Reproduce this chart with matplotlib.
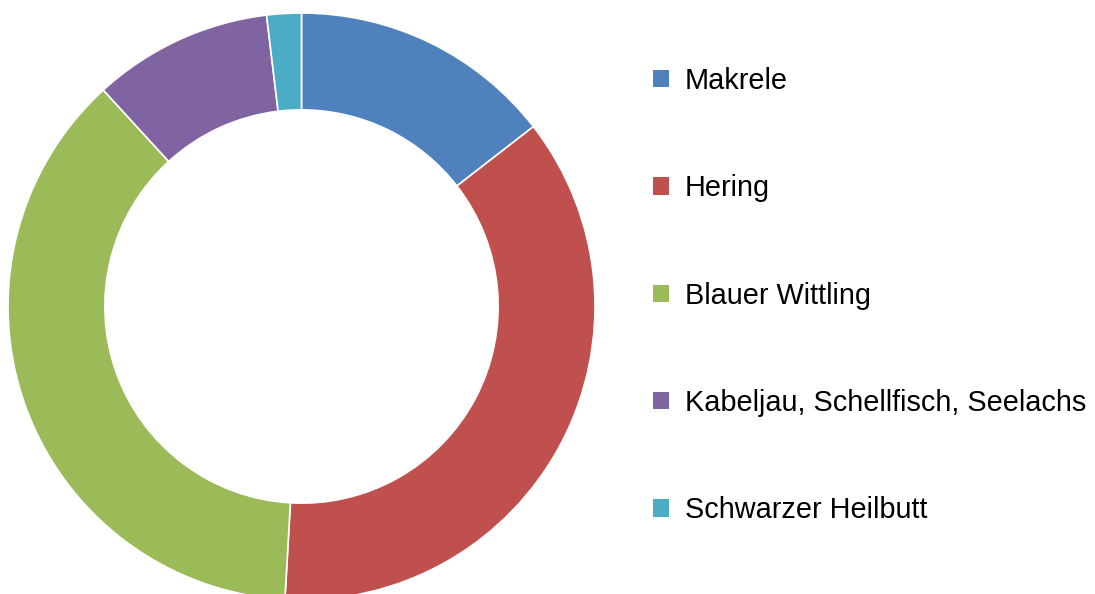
import matplotlib
matplotlib.use("Agg")
import matplotlib.pyplot as plt
from matplotlib.patches import Patch

plt.rcParams['font.family'] = ['Liberation Sans', 'DejaVu Sans']

labels = ["Makrele", "Hering", "Blauer Wittling",
          "Kabeljau, Schellfisch, Seelachs", "Schwarzer Heilbutt"]
shares = [14.5, 36.4, 37.3, 9.9, 1.9]
colors = ["#4F81BD", "#C0504D", "#9BBB59", "#8064A2", "#4BACC6"]

W, H = 1095, 594
fig = plt.figure(figsize=(W / 100, H / 100), dpi=100)
cx, cy, r = 301.5, 306.5, 293.5
ax = fig.add_axes([(cx - r) / W, (H - cy - r) / H, 2 * r / W, 2 * r / H])

wedges, _ = ax.pie(shares, colors=colors, startangle=90, counterclock=False,
                   radius=1.0, wedgeprops=dict(width=0.33, edgecolor="white", linewidth=1.2))
for w in wedges:
    w.set_clip_on(False)
ax.set_xlim(-1, 1)
ax.set_ylim(-1, 1)
ax.set_aspect("equal")
ax.axis("off")

handles = [Patch(facecolor=c, edgecolor="none") for c in colors]
fig.legend(handles, labels, loc="center left", bbox_to_anchor=(653 / W, (H - 295.5) / H),
           frameon=False, fontsize=20.8, handlelength=0.55, handleheight=0.55,
           handletextpad=0.55, labelspacing=2.75, borderpad=0, borderaxespad=0)

fig.savefig("out.png", dpi=100)
